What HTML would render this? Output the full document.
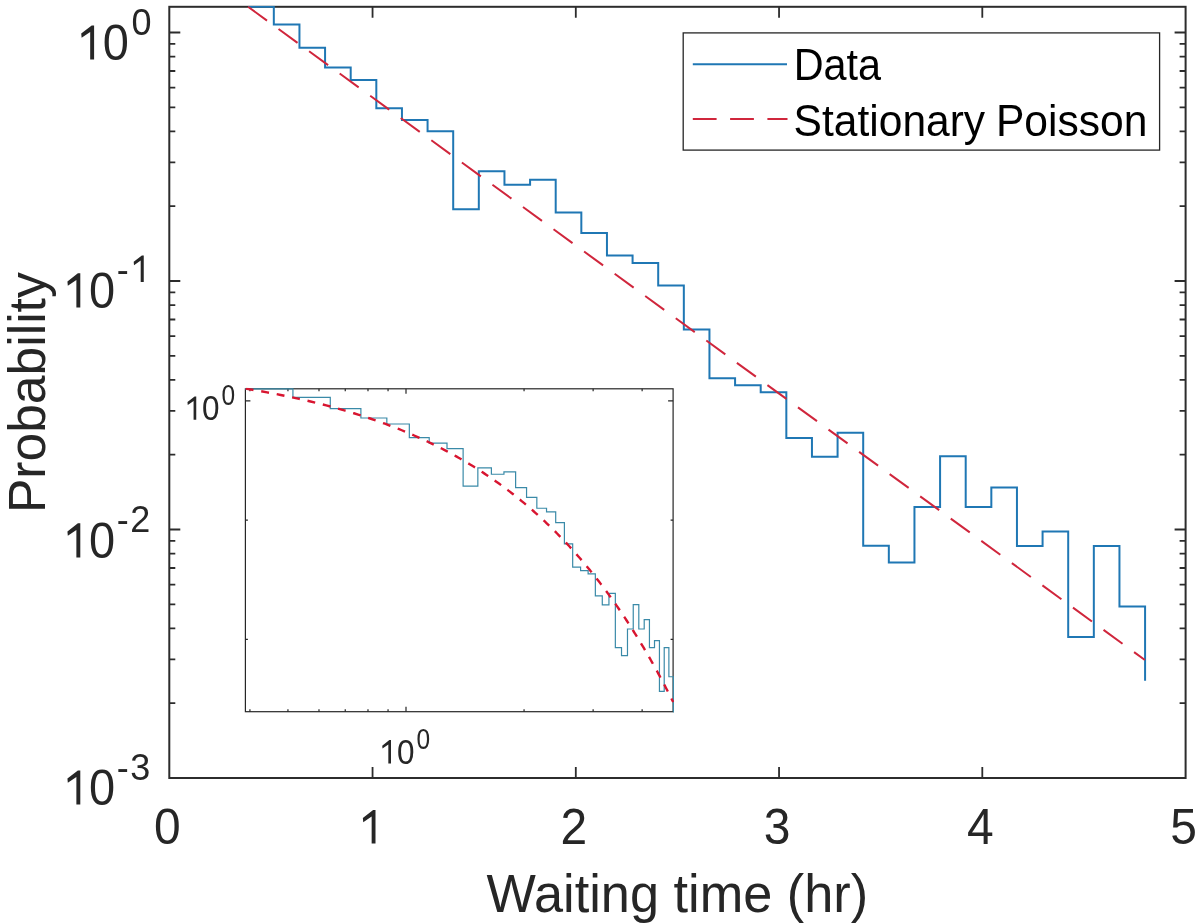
<!DOCTYPE html>
<html><head><meta charset="utf-8"><style>
html,body{margin:0;padding:0;background:#fff;width:1200px;height:923px;overflow:hidden}
svg{display:block;will-change:transform}
</style></head><body>
<svg width="1200" height="923" viewBox="0 0 1200 923"><rect width="1200" height="923" fill="#fff"/><defs><clipPath id="cm"><rect x="168.3" y="5.8" width="1018.3" height="773.2"/></clipPath><clipPath id="ci"><rect x="244.4" y="387.8" width="429.70000000000005" height="324.90000000000003"/></clipPath></defs><path d="M372.55 778.0 V767.0 M372.55 6.8 V17.8 M575.80 778.0 V767.0 M575.80 6.8 V17.8 M779.05 778.0 V767.0 M779.05 6.8 V17.8 M982.30 778.0 V767.0 M982.30 6.8 V17.8 M169.3 32.50 H180.3 M1185.6 32.50 H1174.6 M169.3 281.00 H180.3 M1185.6 281.00 H1174.6 M169.3 206.19 H175.3 M1185.6 206.19 H1179.6 M169.3 162.44 H175.3 M1185.6 162.44 H1179.6 M169.3 131.39 H175.3 M1185.6 131.39 H1179.6 M169.3 107.31 H175.3 M1185.6 107.31 H1179.6 M169.3 87.63 H175.3 M1185.6 87.63 H1179.6 M169.3 70.99 H175.3 M1185.6 70.99 H1179.6 M169.3 56.58 H175.3 M1185.6 56.58 H1179.6 M169.3 43.87 H175.3 M1185.6 43.87 H1179.6 M169.3 529.50 H180.3 M1185.6 529.50 H1174.6 M169.3 454.69 H175.3 M1185.6 454.69 H1179.6 M169.3 410.94 H175.3 M1185.6 410.94 H1179.6 M169.3 379.89 H175.3 M1185.6 379.89 H1179.6 M169.3 355.81 H175.3 M1185.6 355.81 H1179.6 M169.3 336.13 H175.3 M1185.6 336.13 H1179.6 M169.3 319.49 H175.3 M1185.6 319.49 H1179.6 M169.3 305.08 H175.3 M1185.6 305.08 H1179.6 M169.3 292.37 H175.3 M1185.6 292.37 H1179.6 M169.3 778.00 H180.3 M1185.6 778.00 H1174.6 M169.3 703.19 H175.3 M1185.6 703.19 H1179.6 M169.3 659.44 H175.3 M1185.6 659.44 H1179.6 M169.3 628.39 H175.3 M1185.6 628.39 H1179.6 M169.3 604.31 H175.3 M1185.6 604.31 H1179.6 M169.3 584.63 H175.3 M1185.6 584.63 H1179.6 M169.3 567.99 H175.3 M1185.6 567.99 H1179.6 M169.3 553.58 H175.3 M1185.6 553.58 H1179.6 M169.3 540.87 H175.3 M1185.6 540.87 H1179.6" stroke="#2c2c2c" stroke-width="1.8" fill="none"/><rect x="169.3" y="6.8" width="1016.30" height="771.20" fill="none" stroke="#2c2c2c" stroke-width="2"/><g clip-path="url(#cm)"><path d="M248.20 6.75 L273.82 6.75 L273.82 24.60 L299.45 24.60 L299.45 47.80 L325.07 47.80 L325.07 67.50 L350.70 67.50 L350.70 80.00 L376.32 80.00 L376.32 108.30 L401.95 108.30 L401.95 120.00 L427.57 120.00 L427.57 131.20 L453.20 131.20 L453.20 209.20 L478.82 209.20 L478.82 171.30 L504.45 171.30 L504.45 184.70 L530.08 184.70 L530.08 179.70 L555.70 179.70 L555.70 212.40 L581.33 212.40 L581.33 233.00 L606.95 233.00 L606.95 255.50 L632.58 255.50 L632.58 263.00 L658.20 263.00 L658.20 285.50 L683.83 285.50 L683.83 329.50 L709.45 329.50 L709.45 378.30 L735.08 378.30 L735.08 385.30 L760.70 385.30 L760.70 392.20 L786.33 392.20 L786.33 438.00 L811.95 438.00 L811.95 456.70 L837.58 456.70 L837.58 432.70 L863.20 432.70 L863.20 545.80 L888.83 545.80 L888.83 562.50 L914.45 562.50 L914.45 507.00 L940.08 507.00 L940.08 456.30 L965.70 456.30 L965.70 507.00 L991.33 507.00 L991.33 487.50 L1016.95 487.50 L1016.95 545.90 L1042.58 545.90 L1042.58 531.40 L1068.20 531.40 L1068.20 637.00 L1093.83 637.00 L1093.83 546.00 L1119.45 546.00 L1119.45 606.50 L1145.08 606.50 L1145.08 680.80" stroke="#1f77b4" stroke-width="2" fill="none"/><path d="M248.0 6.75 L1144.9 660.0" stroke="#d0263c" stroke-width="2" fill="none" stroke-dasharray="23.5 14.3"/></g><rect x="245.4" y="388.8" width="427.70" height="322.90" fill="#fff" stroke="none"/><path d="M249.93 711.7 V709.2 M249.93 388.8 V391.3 M287.94 711.7 V709.2 M287.94 388.8 V391.3 M318.99 711.7 V709.2 M318.99 388.8 V391.3 M345.25 711.7 V709.2 M345.25 388.8 V391.3 M367.99 711.7 V709.2 M367.99 388.8 V391.3 M388.05 711.7 V709.2 M388.05 388.8 V391.3 M524.06 711.7 V709.2 M524.06 388.8 V391.3 M593.13 711.7 V709.2 M593.13 388.8 V391.3 M642.13 711.7 V709.2 M642.13 388.8 V391.3 M406.00 711.7 V706.7 M406.00 388.8 V393.8 M245.4 400.80 H250.4 M673.1 400.80 H668.1 M245.4 520.10 H247.9 M673.1 520.10 H670.6 M245.4 639.40 H247.9 M673.1 639.40 H670.6" stroke="#262626" stroke-width="1.2" fill="none"/><rect x="245.4" y="388.8" width="427.70" height="322.90" fill="none" stroke="#262626" stroke-width="1.2"/><g clip-path="url(#ci)"><path d="M245.02 388.84 L292.93 388.84 L292.93 397.41 L330.28 397.41 L330.28 408.55 L360.89 408.55 L360.89 418.00 L386.83 418.00 L386.83 424.00 L409.33 424.00 L409.33 437.59 L429.21 437.59 L429.21 443.21 L447.01 443.21 L447.01 448.58 L463.12 448.58 L463.12 486.03 L477.84 486.03 L477.84 467.84 L491.39 467.84 L491.39 474.27 L503.94 474.27 L503.94 471.87 L515.63 471.87 L515.63 487.57 L526.56 487.57 L526.56 497.46 L536.84 497.46 L536.84 508.26 L546.53 508.26 L546.53 511.86 L555.70 511.86 L555.70 522.66 L564.40 522.66 L564.40 543.78 L572.68 543.78 L572.68 567.21 L580.58 567.21 L580.58 570.57 L588.12 570.57 L588.12 573.88 L595.35 573.88 L595.35 595.87 L602.28 595.87 L602.28 604.85 L608.94 604.85 L608.94 593.33 L615.35 593.33 L615.35 647.63 L621.52 647.63 L621.52 655.64 L627.48 655.64 L627.48 629.00 L633.24 629.00 L633.24 604.66 L638.81 604.66 L638.81 629.00 L644.21 629.00 L644.21 619.64 L649.44 619.64 L649.44 647.67 L654.51 647.67 L654.51 640.71 L659.44 640.71 L659.44 691.41 L664.22 691.41 L664.22 647.72 L668.88 647.72 L668.88 676.77 L673.41 676.77 L673.41 712.44" stroke="#3a8aa8" stroke-width="1.2" fill="none"/><path d="M244.39 388.44 L252.29 389.74 L259.85 391.05 L267.08 392.36 L274.01 393.66 L280.68 394.97 L287.09 396.28 L293.27 397.58 L299.24 398.89 L305.00 400.20 L310.57 401.51 L315.97 402.81 L321.20 404.12 L326.28 405.43 L331.21 406.73 L336.00 408.04 L340.66 409.35 L345.19 410.65 L349.61 411.96 L353.92 413.27 L358.12 414.57 L362.22 415.88 L366.22 417.19 L370.13 418.49 L373.95 419.80 L377.69 421.11 L381.35 422.41 L384.93 423.72 L388.44 425.03 L391.88 426.33 L395.24 427.64 L398.55 428.95 L401.79 430.25 L404.97 431.56 L408.09 432.87 L411.16 434.17 L414.17 435.48 L417.13 436.79 L420.04 438.09 L422.90 439.40 L425.71 440.71 L428.48 442.01 L431.20 443.32 L433.88 444.63 L436.52 445.93 L439.12 447.24 L441.67 448.55 L444.20 449.85 L446.68 451.16 L449.13 452.47 L451.54 453.77 L453.92 455.08 L456.27 456.39 L458.59 457.69 L460.87 459.00 L463.13 460.31 L465.35 461.61 L467.55 462.92 L469.71 464.23 L471.86 465.53 L473.97 466.84 L476.06 468.15 L478.12 469.45 L480.16 470.76 L482.17 472.07 L484.17 473.37 L486.13 474.68 L488.08 475.99 L490.00 477.29 L491.90 478.60 L493.78 479.91 L495.64 481.21 L497.49 482.52 L499.31 483.83 L501.11 485.14 L502.89 486.44 L504.65 487.75 L506.40 489.06 L508.13 490.36 L509.84 491.67 L511.53 492.98 L513.21 494.28 L514.87 495.59 L516.52 496.90 L518.14 498.20 L519.76 499.51 L521.36 500.82 L522.94 502.12 L524.51 503.43 L526.06 504.74 L527.60 506.04 L529.13 507.35 L530.64 508.66 L532.14 509.96 L533.63 511.27 L535.11 512.58 L536.57 513.88 L538.02 515.19 L539.45 516.50 L540.88 517.80 L542.29 519.11 L543.69 520.42 L545.08 521.72 L546.46 523.03 L547.83 524.34 L549.18 525.64 L550.53 526.95 L551.86 528.26 L553.19 529.56 L554.50 530.87 L555.81 532.18 L557.10 533.48 L558.39 534.79 L559.66 536.10 L560.93 537.40 L562.19 538.71 L563.43 540.02 L564.67 541.32 L565.90 542.63 L567.12 543.94 L568.33 545.24 L569.54 546.55 L570.73 547.86 L571.92 549.16 L573.10 550.47 L574.27 551.78 L575.43 553.08 L576.58 554.39 L577.73 555.70 L578.87 557.00 L580.00 558.31 L581.12 559.62 L582.24 560.92 L583.35 562.23 L584.45 563.54 L585.55 564.85 L586.63 566.15 L587.71 567.46 L588.79 568.77 L589.86 570.07 L590.92 571.38 L591.97 572.69 L593.02 573.99 L594.06 575.30 L595.10 576.61 L596.12 577.91 L597.15 579.22 L598.16 580.53 L599.17 581.83 L600.18 583.14 L601.18 584.45 L602.17 585.75 L603.16 587.06 L604.14 588.37 L605.11 589.67 L606.09 590.98 L607.05 592.29 L608.01 593.59 L608.96 594.90 L609.91 596.21 L610.86 597.51 L611.79 598.82 L612.73 600.13 L613.65 601.43 L614.58 602.74 L615.49 604.05 L616.41 605.35 L617.32 606.66 L618.22 607.97 L619.12 609.27 L620.01 610.58 L620.90 611.89 L621.79 613.19 L622.67 614.50 L623.54 615.81 L624.41 617.11 L625.28 618.42 L626.14 619.73 L627.00 621.03 L627.85 622.34 L628.70 623.65 L629.55 624.95 L630.39 626.26 L631.22 627.57 L632.06 628.87 L632.89 630.18 L633.71 631.49 L634.53 632.79 L635.35 634.10 L636.16 635.41 L636.97 636.71 L637.77 638.02 L638.58 639.33 L639.37 640.63 L640.17 641.94 L640.96 643.25 L641.74 644.55 L642.53 645.86 L643.31 647.17 L644.08 648.48 L644.85 649.78 L645.62 651.09 L646.39 652.40 L647.15 653.70 L647.91 655.01 L648.66 656.32 L649.42 657.62 L650.16 658.93 L650.91 660.24 L651.65 661.54 L652.39 662.85 L653.13 664.16 L653.86 665.46 L654.59 666.77 L655.31 668.08 L656.04 669.38 L656.76 670.69 L657.47 672.00 L658.19 673.30 L658.90 674.61 L659.61 675.92 L660.31 677.22 L661.01 678.53 L661.71 679.84 L662.41 681.14 L663.10 682.45 L663.79 683.76 L664.48 685.06 L665.17 686.37 L665.85 687.68 L666.53 688.98 L667.21 690.29 L667.88 691.60 L668.55 692.90 L669.22 694.21 L669.89 695.52 L670.55 696.82 L671.21 698.13 L671.87 699.44 L672.53 700.74 L673.18 702.05" stroke="#d81530" stroke-width="2.4" fill="none" stroke-dasharray="7.9 7.85" stroke-dashoffset="14.43"/></g><rect x="683.2" y="32.9" width="476.40" height="117.20" fill="#fff" stroke="#262626" stroke-width="1.3"/><path d="M692.8 64.2 H787" stroke="#1f77b4" stroke-width="2"/><path d="M692.8 119 H787.5" stroke="#d0263c" stroke-width="2" stroke-dasharray="23.8 13.5"/><text transform="translate(793.70 80.00) scale(0.985 1.04)" font-family="Liberation Sans, sans-serif" font-size="42" fill="#000" text-anchor="start" >Data</text><text transform="translate(793.60 135.90) scale(1.013 1.04)" font-family="Liberation Sans, sans-serif" font-size="42" fill="#000" text-anchor="start" >Stationary</text><text transform="translate(995.90 135.90) scale(1.015 1.04)" font-family="Liberation Sans, sans-serif" font-size="42" fill="#000" text-anchor="start" >Poisson</text><text transform="translate(167.30 843.80) scale(1.02 1.065)" font-family="Liberation Sans, sans-serif" font-size="47" fill="#262626" text-anchor="middle" >0</text><path d="M375.50 810.00 L375.50 843.60 L371.65 843.60 L371.65 816.52 L363.25 822.25 L362.85 818.00 L373.13 810.00 Z" fill="#262626"/><text transform="translate(573.80 843.80) scale(1.02 1.065)" font-family="Liberation Sans, sans-serif" font-size="47" fill="#262626" text-anchor="middle" >2</text><text transform="translate(777.05 843.80) scale(1.02 1.065)" font-family="Liberation Sans, sans-serif" font-size="47" fill="#262626" text-anchor="middle" >3</text><text transform="translate(980.30 843.80) scale(1.02 1.065)" font-family="Liberation Sans, sans-serif" font-size="47" fill="#262626" text-anchor="middle" >4</text><text transform="translate(1183.55 843.80) scale(1.02 1.065)" font-family="Liberation Sans, sans-serif" font-size="47" fill="#262626" text-anchor="middle" >5</text><path d="M94.10 25.40 L94.10 59.60 L90.18 59.60 L90.18 32.04 L81.63 37.87 L81.22 33.55 L91.69 25.40 Z" fill="#262626"/><text transform="translate(102.85 59.90) scale(1.0 1.045)" font-family="Liberation Sans, sans-serif" font-size="47" fill="#262626" text-anchor="start" >0</text><text transform="translate(131.50 34.70) scale(1.0 1.03)" font-family="Liberation Sans, sans-serif" font-size="36" fill="#262626" text-anchor="start" >0</text><path d="M80.30 273.30 L80.30 307.50 L76.38 307.50 L76.38 279.94 L67.83 285.77 L67.42 281.45 L77.89 273.30 Z" fill="#262626"/><text transform="translate(89.05 307.80) scale(1.0 1.045)" font-family="Liberation Sans, sans-serif" font-size="47" fill="#262626" text-anchor="start" >0</text><text transform="translate(116.65 282.30) scale(1.0 1.03)" font-family="Liberation Sans, sans-serif" font-size="36" fill="#262626" text-anchor="start" >-</text><path d="M143.75 255.40 L143.75 282.10 L140.69 282.10 L140.69 260.58 L134.01 265.14 L133.70 261.76 L141.87 255.40 Z" fill="#262626"/><path d="M80.30 523.30 L80.30 557.50 L76.38 557.50 L76.38 529.94 L67.83 535.77 L67.42 531.45 L77.89 523.30 Z" fill="#262626"/><text transform="translate(89.05 557.80) scale(1.0 1.045)" font-family="Liberation Sans, sans-serif" font-size="47" fill="#262626" text-anchor="start" >0</text><text transform="translate(116.65 531.90) scale(1.0 1.03)" font-family="Liberation Sans, sans-serif" font-size="36" fill="#262626" text-anchor="start" >-</text><text transform="translate(130.35 531.90) scale(1.0 1.03)" font-family="Liberation Sans, sans-serif" font-size="36" fill="#262626" text-anchor="start" >2</text><path d="M80.30 770.40 L80.30 804.60 L76.38 804.60 L76.38 777.04 L67.83 782.87 L67.42 778.55 L77.89 770.40 Z" fill="#262626"/><text transform="translate(89.05 804.90) scale(1.0 1.045)" font-family="Liberation Sans, sans-serif" font-size="47" fill="#262626" text-anchor="start" >0</text><text transform="translate(116.65 779.90) scale(1.0 1.03)" font-family="Liberation Sans, sans-serif" font-size="36" fill="#262626" text-anchor="start" >-</text><text transform="translate(130.35 779.90) scale(1.0 1.03)" font-family="Liberation Sans, sans-serif" font-size="36" fill="#262626" text-anchor="start" >3</text><text transform="translate(677.40 911.80) scale(1.0 1.017)" font-family="Liberation Sans, sans-serif" font-size="52.3" fill="#262626" text-anchor="middle" >Waiting time (hr)</text><text transform="translate(44.8 392.7) rotate(-90) scale(0.992 1.01)" font-family="Liberation Sans, sans-serif" font-size="52" fill="#262626" text-anchor="middle">Probability</text><path d="M196.25 396.40 L196.25 419.70 L193.58 419.70 L193.58 400.92 L187.75 404.90 L187.48 401.95 L194.61 396.40 Z" fill="#262626"/><text transform="translate(201.95 419.90) scale(1.0 1.085)" font-family="Liberation Sans, sans-serif" font-size="31.5" fill="#262626" text-anchor="start" >0</text><text transform="translate(221.50 405.00) scale(0.98 1.17)" font-family="Liberation Sans, sans-serif" font-size="25" fill="#262626" text-anchor="start" >0</text><path d="M391.00 740.10 L391.00 763.40 L388.33 763.40 L388.33 744.62 L382.50 748.60 L382.23 745.65 L389.36 740.10 Z" fill="#262626"/><text transform="translate(396.95 763.60) scale(1.0 1.085)" font-family="Liberation Sans, sans-serif" font-size="31.5" fill="#262626" text-anchor="start" >0</text><text transform="translate(416.50 748.70) scale(0.98 1.17)" font-family="Liberation Sans, sans-serif" font-size="25" fill="#262626" text-anchor="start" >0</text></svg>
</body></html>
